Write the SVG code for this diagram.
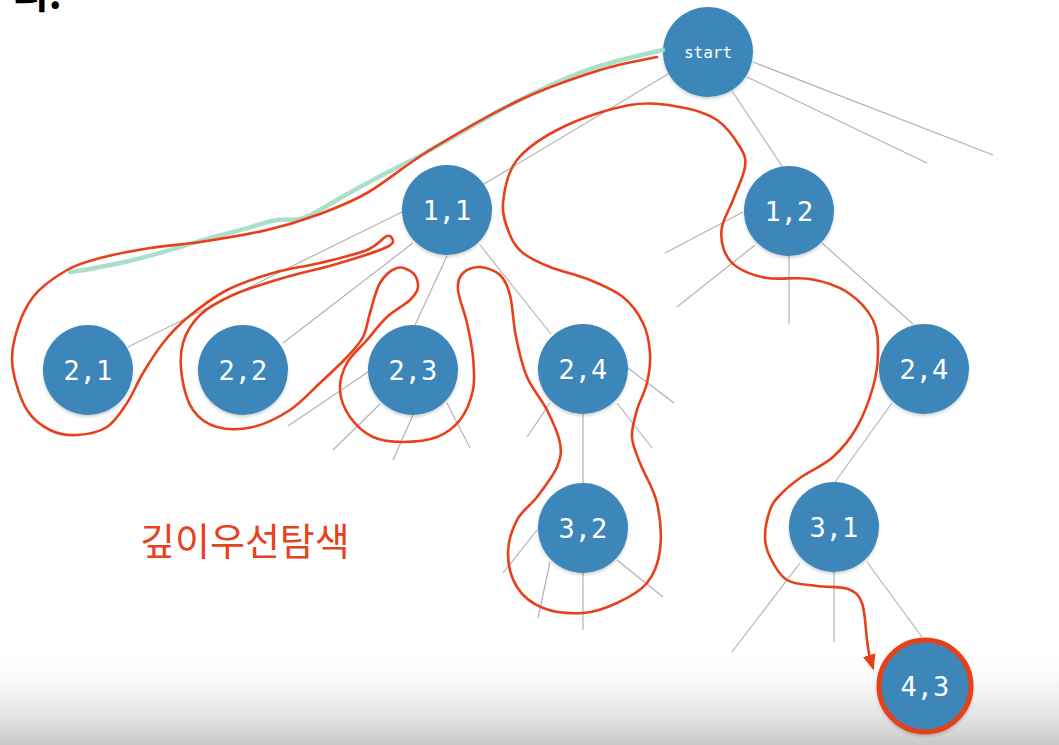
<svg xmlns="http://www.w3.org/2000/svg" width="1059" height="745" viewBox="0 0 1059 745">
<style>
.edge{stroke:#b3b3b3;stroke-width:1.2;fill:none}
.node{fill:#3d86ba}
.lbl{font-family:"DejaVu Sans Mono","Liberation Mono",monospace;font-size:27px;fill:#ffffff;text-anchor:middle}
.trace{fill:none;stroke:#e8401a;stroke-width:2.6;stroke-linecap:round;stroke-linejoin:round}
.hl{fill:none;stroke:#a3dcc3;stroke-width:4.5;stroke-linecap:round;stroke-linejoin:round;opacity:0.9}
</style>
<defs>
<linearGradient id="floor" x1="0" y1="0" x2="0" y2="1">
<stop offset="0" stop-color="#ffffff" stop-opacity="0"/>
<stop offset="1" stop-color="#c9c9c9"/>
</linearGradient>
<filter id="sh" x="-20%" y="-20%" width="140%" height="150%">
<feDropShadow dx="0" dy="2" stdDeviation="1.5" flood-color="#000" flood-opacity="0.18"/>
</filter>
<marker id="ah" markerUnits="userSpaceOnUse" markerWidth="16" markerHeight="14" refX="3" refY="6.5" orient="auto">
<path d="M0,0 L16,6.5 L0,13 z" fill="#e8401a"/>
</marker>
</defs>
<rect width="1059" height="745" fill="#ffffff"/>
<rect x="0" y="645" width="1059" height="100" fill="url(#floor)"/>
<text x="12" y="8" font-family="'Noto Sans CJK KR',sans-serif" font-weight="700" font-size="40" fill="#000">리:</text>
<g id="connectors">
<line class="edge" x1="668" y1="74" x2="484" y2="184"/>
<line class="edge" x1="732" y1="91" x2="782" y2="166"/>
<line class="edge" x1="747" y1="77" x2="927" y2="163"/>
<line class="edge" x1="753" y1="62" x2="993" y2="155"/>
<line class="edge" x1="402" y1="212" x2="128" y2="347"/>
<line class="edge" x1="413" y1="243" x2="283" y2="343"/>
<line class="edge" x1="447" y1="256" x2="415" y2="325"/>
<line class="edge" x1="480" y1="245" x2="551" y2="334"/>
<line class="edge" x1="743" y1="212" x2="665" y2="253"/>
<line class="edge" x1="755" y1="245" x2="677" y2="307"/>
<line class="edge" x1="789" y1="256" x2="789" y2="324"/>
<line class="edge" x1="822" y1="243" x2="913" y2="324"/>
<line class="edge" x1="368" y1="372" x2="288" y2="426"/>
<line class="edge" x1="380" y1="404" x2="333" y2="450"/>
<line class="edge" x1="413" y1="415" x2="393" y2="460"/>
<line class="edge" x1="447" y1="403" x2="470" y2="448"/>
<line class="edge" x1="628" y1="368" x2="674" y2="403"/>
<line class="edge" x1="617" y1="403" x2="652" y2="448"/>
<line class="edge" x1="550" y1="403" x2="527" y2="437"/>
<line class="edge" x1="583" y1="414" x2="583" y2="483"/>
<line class="edge" x1="537" y1="530" x2="503" y2="573"/>
<line class="edge" x1="550" y1="562" x2="538" y2="618"/>
<line class="edge" x1="583" y1="573" x2="583" y2="630"/>
<line class="edge" x1="617" y1="560" x2="663" y2="597"/>
<line class="edge" x1="892" y1="403" x2="835" y2="482"/>
<line class="edge" x1="800" y1="563" x2="732" y2="652"/>
<line class="edge" x1="834" y1="572" x2="834" y2="642"/>
<line class="edge" x1="867" y1="562" x2="922" y2="637"/>
</g>
<g id="node-start"><circle class="node" filter="url(#sh)" cx="708" cy="52" r="45"/><text class="lbl" x="708" y="58" style="font-size:16px">start</text></g>
<g id="node-1-1"><circle class="node" filter="url(#sh)" cx="447" cy="210" r="45"/><text class="lbl" x="447" y="220">1,1</text></g>
<g id="node-1-2"><circle class="node" filter="url(#sh)" cx="789" cy="211" r="45"/><text class="lbl" x="789" y="221">1,2</text></g>
<g id="node-2-1"><circle class="node" filter="url(#sh)" cx="88" cy="370" r="45"/><text class="lbl" x="88" y="380">2,1</text></g>
<g id="node-2-2"><circle class="node" filter="url(#sh)" cx="243" cy="370" r="45"/><text class="lbl" x="243" y="380">2,2</text></g>
<g id="node-2-3"><circle class="node" filter="url(#sh)" cx="413" cy="370" r="45"/><text class="lbl" x="413" y="380">2,3</text></g>
<g id="node-2-4a"><circle class="node" filter="url(#sh)" cx="583" cy="369" r="45"/><text class="lbl" x="583" y="379">2,4</text></g>
<g id="node-3-2"><circle class="node" filter="url(#sh)" cx="583" cy="528" r="45"/><text class="lbl" x="583" y="538">3,2</text></g>
<g id="node-2-4b"><circle class="node" filter="url(#sh)" cx="924" cy="369" r="45"/><text class="lbl" x="924" y="379">2,4</text></g>
<g id="node-3-1"><circle class="node" filter="url(#sh)" cx="834" cy="527" r="45"/><text class="lbl" x="834" y="537">3,1</text></g>
<g id="node-4-3"><circle class="node" cx="925" cy="686" r="46" stroke="#e84016" stroke-width="5" filter="url(#sh)"/><text class="lbl" x="925" y="696">4,3</text></g>
<g id="trace">
<path class="hl" d="M663,50 C640,55 620,60 600,66 S540,88 497,112 S440,146 400,166 S340,198 318,211 S290,218 277,220 S250,228 233,232 S200,241 183,246 S150,256 133,260 S105,266 90,269 S75,271 70,272"/>
<path class="trace" marker-end="url(#ah)" d="M657,57 C638,61 622.8,62.8 600,70 S548.3,86.7 520,100 S455.5,134.5 430,150 S385.8,182.2 367,193 S333.7,208.8 317,215 S286.5,225.5 267,230 S219.5,239 200,242 S166.7,245.3 150,248 S113.8,254.3 100,258 S78.2,263.5 67,270 S41.7,285.8 33,297 S18.3,324.8 15,337 S11,357.8 13,370 S20.8,400 27,410 S41.7,425.8 50,430 S67.5,435.5 77,435 S98.7,432.3 107,427 S121,412 127,403 S137,383 143,373 S155.7,352.2 163,343 S176.3,326.8 187,318 S212.7,297.5 227,290 S257.5,277.5 273,273 S304.3,266.8 320,263 S355.8,254.5 367,250 S382.7,237.3 387,236 S393.3,239.8 393,242 S390,246.2 380,250 S349.2,260.3 333,265 S299.7,273 283,278 S246.8,288.8 233,295 S208.3,307 200,315 S186,332.7 183,343 S180.3,365.8 182,377 S187.2,401.7 193,410 S207,424.2 217,427 S240.8,429.8 253,427 S278.8,417.3 290,410 S310.5,391.8 320,383 S339.8,364.7 347,357 S359.2,344.3 363,337 S367.2,322 370,313 S375.5,290.5 380,283 S391.5,269.7 397,268 S409.5,269.8 413,273 S418.5,282.5 418,287 S415.2,295 410,300 S394.2,310.3 387,317 S373.7,332.3 367,340 S351.5,354.7 347,363 S339.5,381 340,390 S344.5,409.2 350,417 S364.2,432.8 373,437 S392.3,442 403,442 S427.5,440.7 437,437 S454,427.8 460,420 S470.8,400.5 473,390 S474,368.2 473,357 S469.5,334.2 467,323 S458.7,298.3 458,290 S459.3,276.8 463,273 S473.8,266.7 480,267 S495,270.3 500,275 S507.3,284.7 510,295 S513.2,323.3 516,337 S521.8,364.8 527,377 S541.5,399 547,410 S558.3,433.5 560,443 S560.8,458 557,467 S543.7,488.2 537,497 S521.8,510.7 517,520 S508,541.8 508,553 S511.2,577.8 517,587 S532,603.7 543,608 S570.7,613.8 583,613 S606.3,608 617,603 S639.8,591.8 647,583 S658.3,563.3 660,550 S660.3,517.5 657,503 S644.2,474 640,463 S632.5,445.8 632,437 S634.5,419 637,410 S644.8,392.5 647,383 S650.7,363 650,353 S647.5,332.3 643,323 S631.8,304.2 623,297 S602.2,285 590,280 S561.2,271.5 550,267 S529.7,258.3 523,253 S513.3,243.3 510,235 S501.8,215.5 503,203 S507,172.7 517,160 S544.2,136.2 563,127 S610.5,108.3 630,105 S665.5,104.5 680,107 S707,113.3 717,120 S735.3,139.2 740,147 S746.2,158.2 745,167 S736.8,190 733,200 S723.5,218.7 722,227 S721.5,243.3 724,250 S729.8,262.3 737,267 S754.8,276 767,278 S796.7,276.7 810,279 S836.5,285.2 847,292 S867.8,309.8 873,320 S878,341.8 878,353 S876.5,374.7 873,387 S863.7,415.3 857,427 S842.5,448.5 833,457 S808.8,471.7 800,478 S785,489.7 780,495 S772.5,503 770,510 S765,529.2 765,537 S766.3,549.3 770,557 S779.2,575.2 787,580 S806.8,584.5 817,586 S840.5,586.2 848,589 S858.8,594.5 862,603 S865.7,630.2 867,640 S869,654.7 870,658"/>
</g>
<text x="140" y="555" font-family="'Noto Sans CJK KR',sans-serif" font-size="38" fill="#e5431d">깊이우선탐색</text>
</svg>
